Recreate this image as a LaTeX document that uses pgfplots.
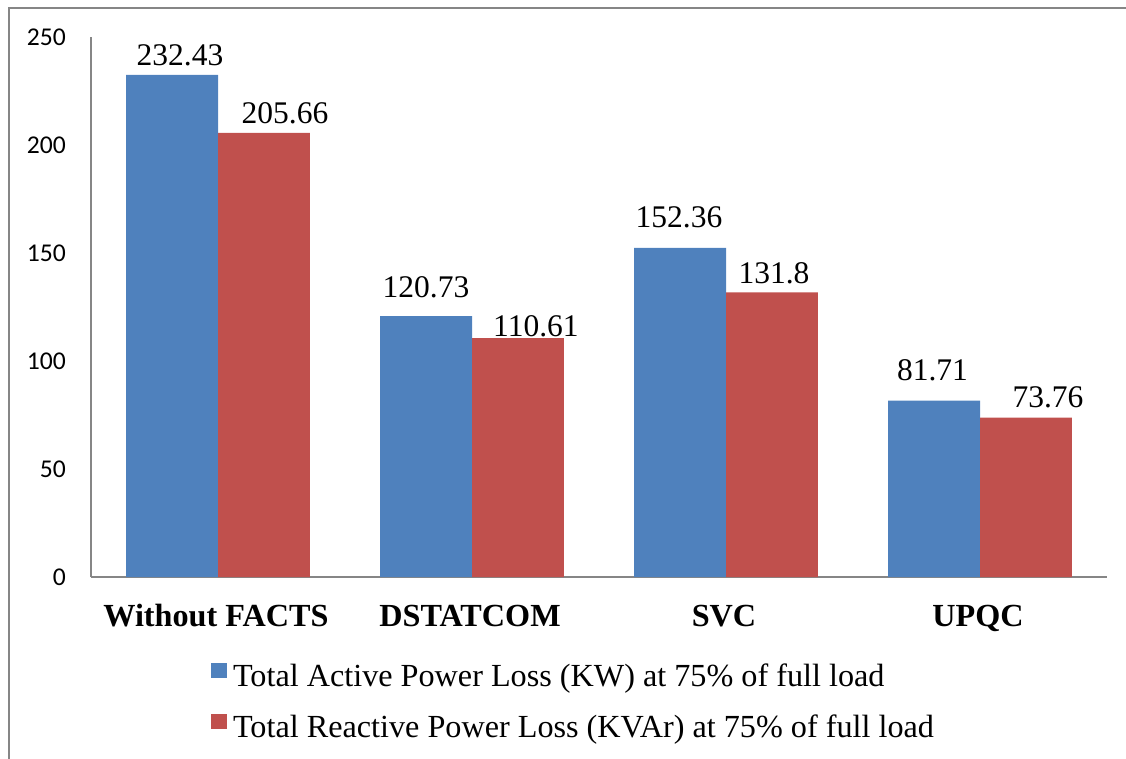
\documentclass[border=0pt]{standalone}
\usepackage{pgfplots}
\pgfplotsset{compat=1.18}
\usepackage{pgfplotstable}
\usepackage{fontspec}
\setmainfont{Liberation Serif}
\newfontfamily\carlito{Carlito}

\definecolor{actblue}{HTML}{4F81BD}
\definecolor{reactred}{HTML}{C0504D}
\definecolor{axgray}{HTML}{868686}

% x = category index, y = loss, dx/dy = label offsets (pt)
\pgfplotstableread{
x y dx dy
0 232.43 8 9
1 120.73 0 19
2 152.36 -1 20
3 81.71 -1.5 20
}\activeloss
\pgfplotstableread{
x y dx dy
0 205.66 21 9
1 110.61 18 2
2 131.8 2 9
3 73.76 22 10
}\reactiveloss

\pgfplotsset{
  shifted labels/.style={
    nodes near coords,
    visualization depends on={\thisrow{dx} \as \labdx},
    visualization depends on={\thisrow{dy} \as \labdy},
    every node near coord/.append style={font=\fontsize{31.5}{36}\selectfont,
      anchor=base, inner sep=0pt, xshift=\labdx pt, yshift=\labdy pt},
  },
}

\begin{document}
\begin{tikzpicture}[x=1pt,y=1pt]
\path[use as bounding box] (0,0) rectangle (1126,-759);
% chart frame
\draw[axgray, line width=2pt] (9,-760) -- (9,-8) -- (1127,-8);
\begin{axis}[
  at={(91pt,-577pt)}, anchor=south west,
  scale only axis, width=1016pt, height=540pt,
  ybar, ymin=0, ymax=250, xmin=-0.5, xmax=3.5,
  axis x line=bottom, axis y line=left,
  axis line style={-, axgray, line width=1.4pt},
  major tick length=0pt,
  ytick={0,50,100,150,200,250},
  xtick=data,
  xticklabels={Without FACTS, DSTATCOM, SVC, UPQC},
  xticklabel style={font=\fontsize{32.2}{37}\selectfont\bfseries, anchor=base, inner sep=0pt, yshift=-49pt, xshift=-2pt},
  yticklabel style={font=\fontsize{25.6}{30}\selectfont\carlito, anchor=east, inner sep=0pt, xshift=-25pt},
  /pgf/number format/assume math mode=true,
  bar width=0.362,
  legend style={draw=none, fill=none, at={(0.115,-0.1526)}, anchor=north west,
    font=\fontsize{32.2}{37}\selectfont, row sep=23pt,
    /tikz/every odd column/.append style={column sep=4pt}},
  legend cell align=left,
  legend image code/.code={\path[#1] (0pt,-2pt) rectangle (16pt,13pt);},
]
\addplot[fill=actblue, draw=none, bar shift=-0.181, shifted labels] table[x=x, y=y] {\activeloss};
\addplot[fill=reactred, draw=none, bar shift=0.181, shifted labels] table[x=x, y=y] {\reactiveloss};
\legend{Total Active Power Loss (KW) at 75\% of full load, Total Reactive Power Loss (KVAr) at 75\% of full load}
\end{axis}
\end{tikzpicture}
\end{document}
